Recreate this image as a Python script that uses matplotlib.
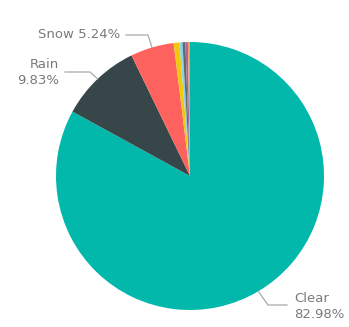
import matplotlib.pyplot as plt
import numpy as np

# weather share of records
labels = ["Clear", "Rain", "Snow", "Fog", "Cloudy", "Sleet", "Hail", "Other"]
shares = [82.98, 9.83, 5.24, 0.70, 0.35, 0.35, 0.30, 0.25]
colors = ["#01B8AA", "#374649", "#FD625E", "#F2C80F", "#8AD4EB", "#5F6B6D", "#A66999", "#FE9666"]
shown = ["Clear", "Rain", "Snow"]

W, H = 349, 327
fig = plt.figure(figsize=(W / 100, H / 100), dpi=100)
ax = fig.add_axes([0, 0, 1, 1])

cx, cy, r = 190, 151, 134
wedges, _ = ax.pie(shares, colors=colors, startangle=90, counterclock=False,
                   center=(cx, cy), radius=r, frame=True,
                   wedgeprops=dict(linewidth=0))
ax.set_xlim(0, W)
ax.set_ylim(0, H)
ax.set_aspect("equal")
ax.axis("off")

txt = "#7a7a7a"
line = "#aaaaaa"
# leader lines: edge point -> elbow -> end, plus label anchor
layout = {
    "Clear": ((268, 22), (287, 22), (294, 20), "left", "{}\n{:.2f}%"),
    "Rain": ((90, 255), (65, 255), (59, 255), "right", "{}\n{:.2f}%"),
    "Snow": ((148, 292), (126, 292), (120, 292), "right", "{} {:.2f}%"),
}
for w, name, val in zip(wedges, labels, shares):
    if name not in shown:
        continue
    ang = np.deg2rad((w.theta1 + w.theta2) / 2)
    ex, ey = cx + r * np.cos(ang), cy + r * np.sin(ang)
    elbow, end, pos, ha, fmt = layout[name]
    ax.plot([ex, elbow[0], end[0]], [ey, elbow[1], end[1]], color=line, lw=0.9)
    ax.text(pos[0], pos[1], fmt.format(name, val), ha=ha, va="center",
            fontsize=9.5, color=txt, linespacing=1.3)

fig.savefig("out.png", dpi=100)
